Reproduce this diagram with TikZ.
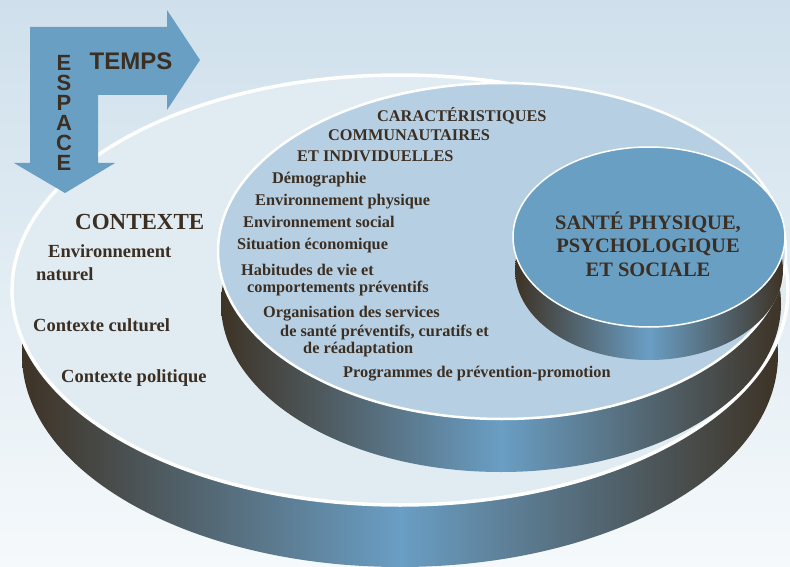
\documentclass[tikz,border=0pt]{standalone}
\usepackage{fontspec}
\setmainfont{Liberation Serif}
\newfontfamily\arrowfont{Liberation Sans}
\usepackage{tikz}
\definecolor{bgtop}{HTML}{CFE0EC}
\definecolor{bgbot}{HTML}{F5F9FB}
\definecolor{outerface}{HTML}{E0EBF2}
\definecolor{midface}{HTML}{B7CFE2}
\definecolor{healthblue}{HTML}{6A9FC4}
\definecolor{banddark}{HTML}{3E3326}
\definecolor{bandblue}{HTML}{6A9EC4}
\definecolor{inkbrown}{HTML}{3B2E22}
\tikzset{band/.style={left color=banddark,right color=banddark,middle color=bandblue},
  rim/.style={draw=white,line width=#1},
  lbl/.style={anchor=base west,inner sep=0pt,text=inkbrown,
    font=\bfseries\fontsize{16.3}{18}\selectfont},
  ctx/.style={lbl,font=\bfseries\fontsize{18.5}{20}\selectfont},
  axislbl/.style={inner sep=0pt,text=inkbrown,
    font=\arrowfont\bfseries\fontsize{22}{20}\selectfont}}

\begin{document}
\begin{tikzpicture}[x=1pt,y=-1pt]
  \useasboundingbox (0,0) rectangle (790,567);
  \shade[top color=bgtop,bottom color=bgbot] (0,0) rectangle (790,567);

  \coordinate (outer)     at (400,290);
  \coordinate (outerlow)  at (400,355);
  \coordinate (mid)       at (502,251);
  \coordinate (midlow)    at (501,304);
  \coordinate (health)    at (649,237);
  \coordinate (healthlow) at (649,270);

  % disque exterieur : contexte
  \shade[band] (outerlow) ellipse (378 and 212);
  \fill[outerface] (outer) ellipse (388 and 215);
  \draw[rim=3.5pt] (outer) ellipse (388 and 215);

  % disque du milieu : caracteristiques
  \shade[band] (midlow) ellipse (280 and 168);
  \fill[midface] (mid) ellipse (284 and 168);
  \draw[rim=2.5pt] (mid) ellipse (284 and 168);

  % disque central : sante
  \shade[band] (healthlow) ellipse (134 and 90);
  \fill[healthblue] (health) ellipse (136 and 90);
  \draw[rim=1.5pt] (health) ellipse (136 and 90);

  % fleche espace / temps
  \fill[healthblue] (30,27) -- (167,27) -- (167,10) -- (200,60) -- (167,110)
    -- (167,95) -- (98,95) -- (98,163) -- (115,163) -- (65,193) -- (14,163)
    -- (30,163) -- cycle;
  \node[axislbl,anchor=base,font=\arrowfont\bfseries\fontsize{24}{24}\selectfont]
    (temps) at (131,70) {TEMPS};
  \node[axislbl,align=center] (espace) at (64,112.5) {E\\S\\P\\A\\C\\E};

  % contexte
  \node[ctx,font=\bfseries\fontsize{23}{24}\selectfont] (contexte) at (75,229) {CONTEXTE};
  \node[ctx] (envnat1)   at (48,257) {Environnement};
  \node[ctx] (envnat2)   at (36,280) {naturel};
  \node[ctx] (culture)   at (33,331) {Contexte culturel};
  \node[ctx] (politique) at (61,382) {Contexte politique};

  % caracteristiques
  \node[lbl] (carac)     at (377,122) {CARACTÉRISTIQUES};
  \node[lbl] (commun)    at (328,141) {COMMUNAUTAIRES};
  \node[lbl] (indiv)     at (297,162) {ET INDIVIDUELLES};
  \node[lbl] (demo)      at (272,183) {Démographie};
  \node[lbl] (envphys)   at (255,205) {Environnement physique};
  \node[lbl] (envsoc)    at (243,227) {Environnement social};
  \node[lbl] (situation) at (237,249) {Situation économique};
  \node[lbl] (habit1)    at (241,275) {Habitudes de vie et};
  \node[lbl] (habit2)    at (247,292) {comportements préventifs};
  \node[lbl] (orga1)     at (263,317) {Organisation des services};
  \node[lbl] (orga2)     at (280,336) {de santé préventifs, curatifs et};
  \node[lbl] (orga3)     at (303,353) {de réadaptation};
  \node[lbl] (prog)      at (343,377) {Programmes de prévention-promotion};

  % sante
  \node[inner sep=0pt,align=center,text=inkbrown,
    font=\bfseries\fontsize{20.5}{23.5}\selectfont] (sante) at (648,244)
    {SANTÉ PHYSIQUE,\\PSYCHOLOGIQUE\\ET SOCIALE};
\end{tikzpicture}
\end{document}
